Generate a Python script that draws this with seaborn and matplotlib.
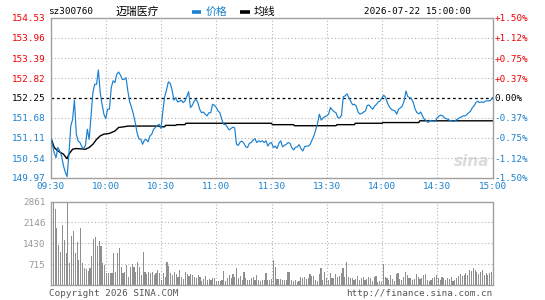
import numpy as np
import matplotlib
matplotlib.use("Agg")
import matplotlib.pyplot as plt
from matplotlib.lines import Line2D
import seaborn as sns

# ---------------- data ----------------
code = "sz300760"
name = "迈瑞医疗"
timestamp = "2026-07-22 15:00:00"
legend_price = "价格"
legend_avg = "均线"
copyright_txt = "Copyright 2026 SINA.COM"
url_txt = "http://finance.sina.com.cn"
prev_close = 152.25
price_ticks = [149.97, 150.54, 151.11, 151.68, 152.25, 152.82, 153.39, 153.96, 154.53]
pct_labels = ["-1.50%", "-1.12%", "-0.75%", "-0.37%", "0.00%", "+0.37%", "+0.75%", "+1.12%", "+1.50%"]
vol_ticks = [715, 1430, 2146, 2861]
time_labels = ["09:30", "10:00", "10:30", "11:00", "11:30", "13:30", "14:00", "14:30", "15:00"]

price = [
    151.12, 150.93, 150.69, 150.55, 150.84, 150.74, 150.60, 150.33, 150.14, 150.01,
    150.65, 151.45, 151.64, 152.19, 151.22, 151.03, 150.98, 150.86, 150.81, 150.90,
    151.36, 151.07, 151.74, 152.40, 152.64, 152.64, 153.05, 152.40, 152.07, 151.79,
    151.66, 151.93, 151.93, 152.55, 152.74, 152.69, 152.93, 152.99, 152.90, 152.78,
    152.78, 152.83, 152.45, 152.14, 151.98, 151.79, 151.55, 151.26, 151.09, 151.07,
    150.93, 151.05, 151.07, 151.00, 151.17, 151.22, 151.36, 151.41, 151.47, 151.50,
    151.38, 151.88, 152.29, 152.48, 152.71, 152.67, 152.48, 152.19, 152.26, 152.14,
    152.15, 152.19, 152.12, 152.16, 152.29, 152.43, 151.98, 152.04, 152.16, 152.21,
    152.12, 151.93, 151.83, 151.85, 151.79, 151.74, 151.83, 151.83, 152.07, 152.04,
    151.98, 151.88, 151.83, 151.64, 151.50, 151.50, 151.42, 151.34, 151.38, 151.42,
    151.40, 150.93, 150.90, 151.00, 151.02, 150.96, 150.86, 150.84, 150.96, 150.98,
    151.05, 151.09, 150.98, 151.03, 151.00, 151.03, 150.98, 151.03, 150.88, 150.96,
    150.98, 150.84, 150.88, 150.81, 150.96, 151.03, 150.86, 150.90, 150.93, 150.98,
    150.96, 150.84, 150.77, 150.84, 150.86, 150.92, 150.81, 150.74, 150.86, 150.88,
    150.88, 150.93, 151.05, 151.17, 151.34, 151.53, 151.79, 151.62, 151.68, 151.72,
    151.74, 151.79, 151.98, 151.91, 151.86, 151.83, 151.69, 151.68, 151.76, 152.29,
    152.31, 152.37, 152.26, 152.16, 152.06, 152.07, 152.02, 151.85, 151.79, 151.81,
    151.85, 151.88, 152.04, 152.05, 151.98, 151.93, 152.02, 152.07, 152.14, 152.17,
    152.26, 152.33, 152.26, 152.10, 152.00, 151.93, 151.90, 151.88, 151.79, 151.93,
    151.97, 152.02, 152.16, 152.45, 152.29, 152.26, 152.23, 152.12, 151.93, 151.83,
    151.80, 151.85, 151.74, 151.64, 151.61, 151.55, 151.61, 151.60, 151.59, 151.59,
    151.69, 151.74, 151.76, 151.74, 151.68, 151.66, 151.64, 151.60, 151.60, 151.58,
    151.61, 151.65, 151.68, 151.71, 151.74, 151.74, 151.77, 151.83, 151.87, 151.97,
    152.03, 152.12, 152.16, 152.12, 152.14, 152.12, 152.16, 152.17, 152.17, 152.18,
    152.26,
]

avg_t = [0, 2, 4, 7, 9, 10, 12, 14, 19, 21, 23, 25, 27, 29, 32, 35, 37, 40, 42,
         59, 59.5, 62, 62.5, 68, 68.5, 73, 73.5, 120, 120.5, 132, 132.5, 155, 155.5,
         165, 165.5, 180, 180.5, 200, 200.5, 240]
avg_v = [151.15, 150.84, 150.74, 150.65, 150.52, 150.65, 150.79, 150.81, 150.79, 150.84,
         150.93, 151.07, 151.17, 151.22, 151.24, 151.31, 151.41, 151.43, 151.45,
         151.45, 151.43, 151.43, 151.47, 151.47, 151.49, 151.49, 151.53, 151.53, 151.49,
         151.49, 151.46, 151.46, 151.49, 151.49, 151.53, 151.53, 151.55, 151.55, 151.60,
         151.60]

volume = [
    2861, 2800, 2608, 1945, 1373, 1144, 2059, 1544, 1087, 2840,
    744, 1693, 1865, 1087, 1487, 858, 1968, 744, 572, 549,
    480, 572, 1007, 1579, 1659, 1338, 1510, 1350, 744, 686,
    400, 400, 400, 400, 1087, 458, 1087, 1281, 629, 400,
    458, 686, 286, 629, 709, 629, 435, 801, 629, 343,
    1144, 435, 366, 435, 400, 435, 343, 400, 515, 400,
    172, 400, 286, 801, 652, 400, 343, 458, 366, 286,
    515, 286, 194, 435, 366, 320, 366, 343, 286, 252,
    343, 286, 137, 206, 320, 172, 206, 172, 229, 252,
    137, 137, 137, 172, 480, 137, 229, 343, 252, 366,
    286, 595, 229, 320, 172, 435, 229, 172, 172, 229,
    286, 172, 343, 172, 137, 172, 172, 400, 172, 172,
    194, 858, 629, 206, 206, 194, 172, 172, 172, 435,
    458, 172, 149, 172, 114, 137, 286, 229, 286, 206,
    229, 366, 320, 320, 172, 137, 366, 595, 172, 435,
    229, 172, 423, 252, 252, 366, 286, 320, 400, 595,
    286, 778, 263, 229, 252, 172, 194, 309, 172, 252,
    286, 172, 206, 286, 229, 137, 286, 320, 114, 137,
    114, 709, 286, 252, 172, 343, 206, 137, 366, 400,
    206, 172, 286, 435, 343, 229, 252, 172, 206, 366,
    286, 206, 252, 343, 366, 172, 137, 172, 229, 286,
    343, 252, 172, 286, 252, 172, 229, 206, 286, 137,
    172, 252, 320, 366, 320, 343, 400, 343, 515, 480,
    595, 515, 435, 366, 435, 515, 343, 400, 343, 400,
    435,
]

# ---------------- style ----------------
MONO = "DejaVu Sans Mono"
CJK = "Noto Sans CJK SC"
plt.rcParams["font.family"] = [MONO, CJK]
FS = 6.7
BLUE = "#1a80cf"
RED = "#ee0000"
GRAY = "#999999"
SPINE = "#a0a0a0"
GRID = "#b4b4b4"

W, H = 545, 300
fig = plt.figure(figsize=(W / 100, H / 100), dpi=100)


def fx(px):
    return px / W


def fy(py):
    return 1 - py / H


L, R = 50.5, 492.5
ax_p = fig.add_axes([fx(L), fy(178), (R - L) / W, (178 - 18) / H])
ax_v = fig.add_axes([fx(L), fy(285), (R - L) / W, (285 - 201.5) / H])

minute = np.arange(len(price))
grid_x = np.arange(30, 240, 30)
tick_x = np.arange(0, 241, 30)

# ---------------- price panel ----------------
for v in price_ticks[1:-1]:
    if abs(v - prev_close) > 1e-6:
        ax_p.axhline(v, color=GRID, lw=0.8, ls=(0, (1, 2)), zorder=1)
for t in grid_x:
    ax_p.axvline(t, color=GRID, lw=0.8, ls=(0, (1, 2)), zorder=1)
ax_p.axhline(prev_close, color="black", lw=0.9, ls=(0, (2.2, 2.2)), zorder=1.5)

ax_p.text((472 - L) / (R - L), (178 - 162) / 160, "sina", transform=ax_p.transAxes,
          color="#dcdcdc", fontsize=11, fontstyle="italic", fontweight="bold",
          family="DejaVu Sans", ha="center", va="center", zorder=0.5)

sns.lineplot(x=minute, y=price, ax=ax_p, color=BLUE, linewidth=0.85, zorder=3)
sns.lineplot(x=avg_t, y=avg_v, ax=ax_p, color="black", linewidth=1.0, zorder=2.5)

ax_p.set_xlim(0, 240)
ax_p.set_ylim(price_ticks[0], price_ticks[-1])
ax_p.set_xlabel("")
ax_p.set_ylabel("")


def lvl_color(v):
    if abs(v - prev_close) < 1e-6:
        return "black"
    return RED if v > prev_close else BLUE


ax_p.set_yticks(price_ticks)
ax_p.set_yticklabels([f"{v:.2f}" for v in price_ticks], fontsize=FS)
for lbl, v in zip(ax_p.get_yticklabels(), price_ticks):
    lbl.set_color(lvl_color(v))
ax_p.set_xticks(tick_x)
ax_p.set_xticklabels(time_labels, fontsize=FS, color=BLUE)
ax_p.tick_params(axis="y", length=0, pad=3.6)
ax_p.tick_params(axis="x", length=0, pad=3.0)

ax_r = ax_p.twinx()
ax_r.set_ylim(price_ticks[0], price_ticks[-1])
ax_r.set_yticks(price_ticks)
ax_r.set_yticklabels(pct_labels, fontsize=FS)
for lbl, v in zip(ax_r.get_yticklabels(), price_ticks):
    lbl.set_color(lvl_color(v))
ax_r.tick_params(axis="y", length=0, pad=1.5)
for s in ax_r.spines.values():
    s.set_visible(False)

for s in ax_p.spines.values():
    s.set_color(SPINE)
    s.set_linewidth(1.0)

# ---------------- volume panel ----------------
for v in vol_ticks[:-1]:
    ax_v.axhline(v, color=GRID, lw=0.8, ls=(0, (1, 2)), zorder=0.5)
for t in grid_x:
    ax_v.axvline(t, color=GRID, lw=0.8, ls=(0, (1, 2)), zorder=0.5)

sns.barplot(x=minute, y=volume, native_scale=True, ax=ax_v, color="#8f8f8f",
            saturation=1, width=0.62, errorbar=None, linewidth=0, zorder=2)
ax_v.set_xlim(-0.5, 240.5)
ax_v.set_ylim(0, vol_ticks[-1])
ax_v.set_xlabel("")
ax_v.set_ylabel("")
ax_v.set_xticks([])
ax_v.set_yticks(vol_ticks)
ax_v.set_yticklabels([str(v) for v in vol_ticks], fontsize=FS, color=GRAY)
ax_v.tick_params(axis="y", length=0, pad=3.6)
for s in ax_v.spines.values():
    s.set_color(SPINE)
    s.set_linewidth(1.0)

# ---------------- header / footer ----------------
fig.text(fx(48), fy(11.5), code, fontsize=FS, color="black", family=MONO, va="center", ha="left")
fig.text(fx(115), fy(11.5), name, fontsize=7.8, color="black", family=[CJK], va="center", ha="left")
fig.add_artist(Line2D([fx(192), fx(201)], [fy(11.5), fy(11.5)], transform=fig.transFigure,
                      color=BLUE, lw=2.6, solid_capstyle="butt"))
fig.text(fx(206), fy(11.5), legend_price, fontsize=7.8, color=BLUE, family=[CJK], va="center", ha="left")
fig.add_artist(Line2D([fx(240), fx(250)], [fy(11.5), fy(11.5)], transform=fig.transFigure,
                      color="black", lw=2.6, solid_capstyle="butt"))
fig.text(fx(254), fy(11.5), legend_avg, fontsize=7.8, color="black", family=[CJK], va="center", ha="left")
fig.text(fx(470.5), fy(11.5), timestamp, fontsize=FS, color="black", family=MONO, va="center", ha="right")

fig.text(fx(49), fy(293), copyright_txt, fontsize=FS, color="#555555", family=MONO, va="center", ha="left")
fig.text(fx(492), fy(293), url_txt, fontsize=FS, color="#555555", family=MONO, va="center", ha="right")

fig.savefig("out.png", dpi=100, facecolor="white")
